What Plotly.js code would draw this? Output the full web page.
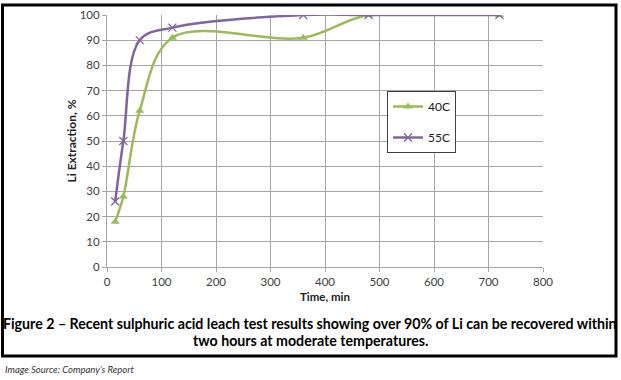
<!DOCTYPE html>
<html><head><meta charset="utf-8">
<script src="https://cdn.plot.ly/plotly-3.0.1.min.js"></script>
<style>html,body{margin:0;padding:0;background:#fff;}#c{width:621px;height:380px;}</style>
</head><body><div id="c"></div>
<script>
const timeMin = [15, 30, 60, 120, 360, 480, 720];
const ext40C = [18, 28, 62, 91, 91, 100, 100];
const ext55C = [26, 50, 90, 95, 100, 100, 100];
const seriesNames = ['40C', '55C'];
const xTicks = [0, 100, 200, 300, 400, 500, 600, 700, 800];
const yTicks = [0, 10, 20, 30, 40, 50, 60, 70, 80, 90, 100];
const xTitle = 'Time, min';
const yTitle = 'Li Extraction, %';
const captionLine1 = 'Figure 2 – Recent sulphuric acid leach test results showing over 90% of Li can be recovered within';
const captionLine2 = 'two hours at moderate temperatures.';
const sourceText = 'Image Source: Company’s Report';

const W = 621, H = 380, L = 107, R = 78, T = 15, B = 113;
const pw = W - L - R, ph = H - T - B;
const px = v => (v - L) / pw;
const py = v => 1 - (v - T) / ph;

const tickFont = {family: 'Lato, "Open Sans", sans-serif', size: 11.5, color: '#404040'};
const capFont = {family: 'Lato, sans-serif', size: 14.2, color: '#000'};
const traces = [
  {x: timeMin, y: ext40C, name: seriesNames[0], type: 'scatter', mode: 'lines+markers', legendgroup: 'a',
   line: {color: '#9bbb59', width: 2.5, shape: 'spline', smoothing: 1},
   marker: {symbol: 'triangle-up', size: 8, color: '#9bbb59'}},
  {x: timeMin, y: ext55C, name: seriesNames[1], type: 'scatter', mode: 'lines+markers', legendgroup: 'b',
   line: {color: '#8064a2', width: 2.5, shape: 'spline', smoothing: 1},
   marker: {symbol: 'x-thin', size: 8, color: '#8064a2', line: {color: '#8064a2', width: 1.2}}}
];
const layout = {
  width: W, height: H,
  margin: {l: L, r: R, t: T, b: B, pad: 0},
  paper_bgcolor: '#fff', plot_bgcolor: '#fff',
  showlegend: true,
  legend: {x: px(387), y: py(91), xanchor: 'left', yanchor: 'top',
    bgcolor: '#fff', bordercolor: '#404040', borderwidth: 1,
    font: {family: 'Lato, "Open Sans", sans-serif', size: 12, color: '#222'},
    tracegroupgap: 12, itemwidth: 30},
  xaxis: {range: [0, 800], tickvals: xTicks, ticktext: xTicks.map(String),
    showgrid: true, gridcolor: '#a6a6a6', gridwidth: 1,
    showline: true, linecolor: '#a6a6a6', linewidth: 1, zeroline: false,
    ticks: 'outside', ticklen: 4, tickcolor: '#a6a6a6', tickfont: tickFont,
    title: {text: '<b>' + xTitle + '</b>', font: {family: 'Lato, sans-serif', size: 11.5, color: '#222'}, standoff: 6}},
  yaxis: {range: [0, 100], tickvals: yTicks, ticktext: yTicks.map(String),
    showgrid: true, gridcolor: '#a6a6a6', gridwidth: 1,
    showline: true, linecolor: '#a6a6a6', linewidth: 1, zeroline: false,
    ticks: 'outside', ticklen: 4, tickcolor: '#a6a6a6', tickfont: tickFont,
    title: {text: '<b>' + yTitle + '</b>', font: {family: 'Lato, sans-serif', size: 12, color: '#222'}, standoff: 0}},
  shapes: [
    {type: 'rect', xref: 'paper', yref: 'paper', x0: px(2.5), x1: px(616), y0: py(356), y1: py(5),
     line: {color: '#000', width: 3}, fillcolor: 'rgba(0,0,0,0)', layer: 'above'}
  ],
  annotations: [
    {xref: 'paper', yref: 'paper', x: px(310), y: py(323), xanchor: 'center', yanchor: 'middle', showarrow: false,
     text: '<b>' + captionLine1 + '</b>', font: capFont},
    {xref: 'paper', yref: 'paper', x: px(310), y: py(340), xanchor: 'center', yanchor: 'middle', showarrow: false,
     text: '<b>' + captionLine2 + '</b>', font: capFont},
    {xref: 'paper', yref: 'paper', x: px(3), y: py(369), xanchor: 'left', yanchor: 'middle', showarrow: false,
     text: '<i>' + sourceText + '</i>', font: {family: 'Lato, sans-serif', size: 9.5, color: '#333'}}
  ]
};
Plotly.newPlot('c', traces, layout, {displayModeBar: false, staticPlot: true});
</script></body></html>
